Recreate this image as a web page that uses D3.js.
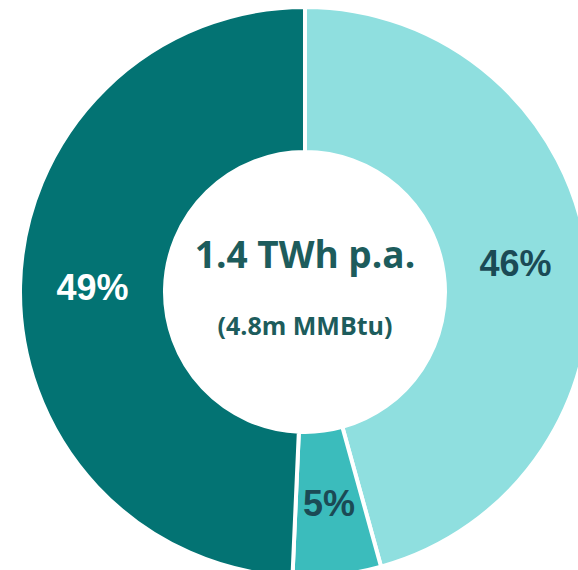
<!DOCTYPE html>
<html>
<head>
<meta charset="utf-8">
<script src="https://cdn.jsdelivr.net/npm/d3@7"></script>
<style>
  body { margin: 0; background: #fff; }
  svg { display: block; }
</style>
</head>
<body>
<div class="chart"></div>
<script>
  // segments, clockwise from 12 o'clock
  var categories = ['A', 'B', 'C']
  var shares = [45.7, 5.0, 49.3]
  var labels = ['46%', '5%', '49%']
  var colors = ['#8fdfdf', '#3bbcbc', '#037373']
  var labelColors = ['#1b4a55', '#1b4a55', '#ffffff']
  var centerTitle = '1.4 TWh p.a.'
  var centerSub = '(4.8m MMBtu)'

  var width = 578
  var height = 570
  var cx = 305
  var cy = 292
  var outerR = 285
  var innerR = 140

  var svg = d3.select('.chart').append('svg')
      .attr('width', width)
      .attr('height', height)

  var g = svg.append('g')
      .attr('transform', 'translate(' + cx + ',' + cy + ')')

  var pie = d3.pie()
      .sort(null)
      .value(function (d) { return d })

  var arc = d3.arc()
      .innerRadius(innerR)
      .outerRadius(outerR)

  var arcs = pie(shares)

  g.selectAll('path.slice')
      .data(arcs)
      .enter()
      .append('path')
      .attr('class', 'slice')
      .attr('d', arc)
      .attr('fill', function (d, i) { return colors[i] })
      .attr('stroke', '#fff')
      .attr('stroke-width', 4)

  g.selectAll('text.pct')
      .data(arcs)
      .enter()
      .append('text')
      .attr('class', 'pct')
      .attr('transform', function (d) {
        var c = arc.centroid(d)
        return 'translate(' + c[0] + ',' + (c[1] + 13) + ')'
      })
      .attr('text-anchor', 'middle')
      .attr('font-family', '"Liberation Sans", Arial, sans-serif')
      .attr('font-weight', 'bold')
      .attr('font-size', '36px')
      .attr('fill', function (d, i) { return labelColors[i] })
      .text(function (d, i) { return labels[i] })

  g.append('text')
      .attr('x', 0)
      .attr('y', -24)
      .attr('text-anchor', 'middle')
      .attr('font-family', '"Open Sans", sans-serif')
      .attr('font-weight', 'bold')
      .attr('font-size', '37px')
      .attr('fill', '#1d5c5c')
      .text(centerTitle)

  g.append('text')
      .attr('x', 0)
      .attr('y', 43)
      .attr('text-anchor', 'middle')
      .attr('font-family', '"Open Sans", sans-serif')
      .attr('font-weight', 'bold')
      .attr('font-size', '25px')
      .attr('fill', '#1d5c5c')
      .text(centerSub)
</script>
</body>
</html>
